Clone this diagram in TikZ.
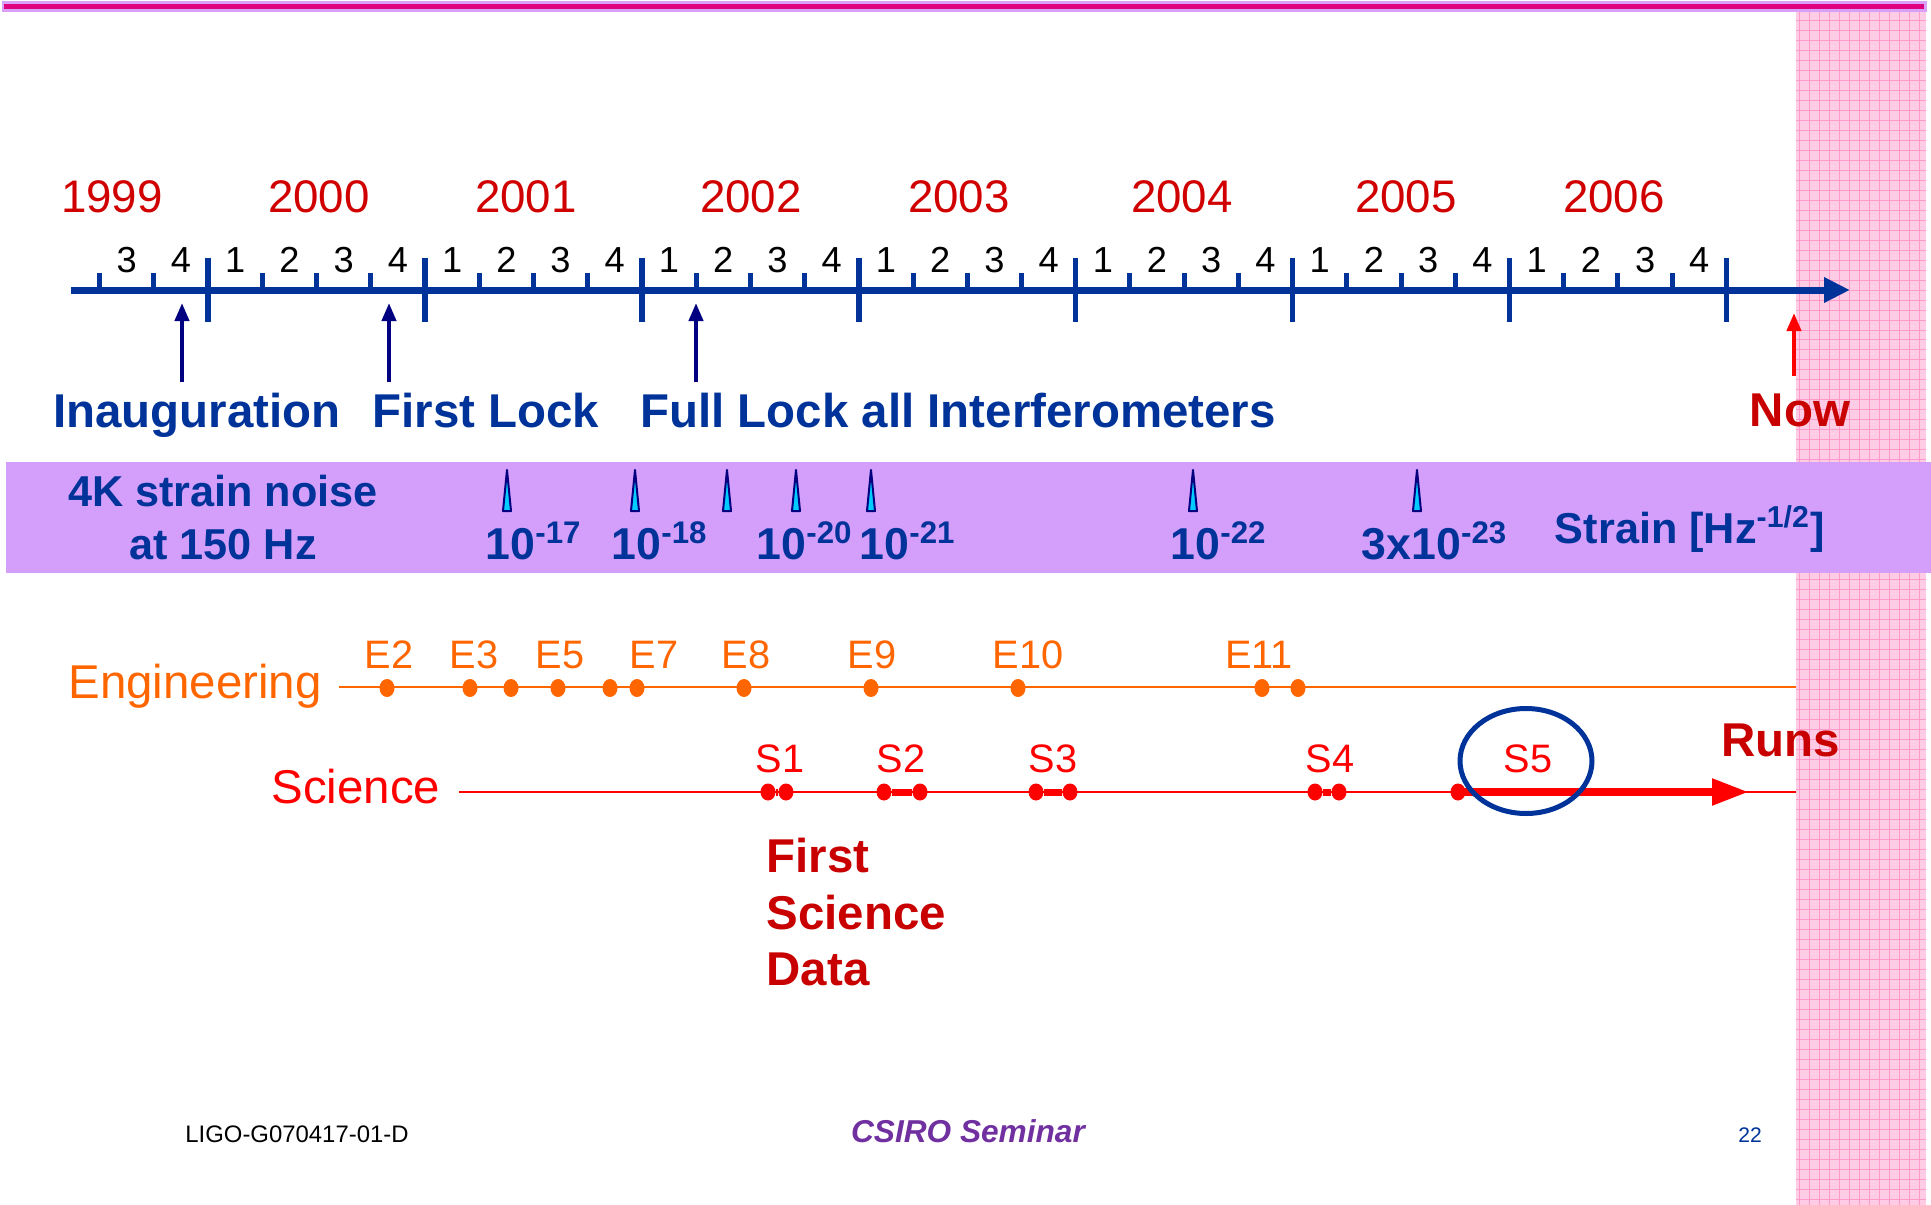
\documentclass[tikz,border=0pt]{standalone}
\usepackage{fontspec}
\setmainfont{Liberation Sans}
\usepackage{tikz}
\usetikzlibrary{arrows.meta,positioning,calc,shapes.geometric}
\definecolor{navy}{HTML}{003399}
\definecolor{arrnavy}{HTML}{000080}
\definecolor{yearred}{HTML}{D00000}
\definecolor{darkred}{HTML}{C80000}
\definecolor{scired}{HTML}{FF0000}
\definecolor{engorange}{HTML}{FF6600}
\definecolor{bandviolet}{HTML}{D49EFB}
\definecolor{spikecyan}{HTML}{00CCFF}
\definecolor{pinkfill}{HTML}{FFCCE5}
\definecolor{pinkline}{HTML}{FF9ACB}
\definecolor{barmagenta}{HTML}{DE007F}
\definecolor{barlilac}{HTML}{D8A0F8}
\definecolor{csiro}{HTML}{7030A0}
\newcommand\fsz[2]{\fontsize{#1}{#2}\selectfont}
\tikzset{axisline/.style={line width=0.7mm,draw=navy,-{Triangle[length=2.6mm,width=2.4mm]}},
  majtick/.style={line width=0.55mm,draw=navy},
  mintick/.style={line width=0.5mm,draw=navy},
  yr/.style={anchor=base,inner sep=0pt,text=yearred,font=\fsz{13pt}{15pt}},
  qtr/.style={anchor=base,inner sep=0pt,font=\fsz{10.3pt}{12pt}},
  milestone/.style={anchor=base,inner sep=0pt,text=navy,font=\fsz{13.5pt}{16pt}\bfseries},
  uparr/.style={line width=0.4mm,-{Triangle[length=1.8mm,width=1.4mm]}},
  bandtext/.style={anchor=base,inner sep=0pt,text=navy,font=\fsz{12.3pt}{14.8pt}\bfseries,align=center},
  spike/.style={draw=arrnavy,fill=spikecyan,line width=0.2mm,line join=round},
  edot/.style={ellipse,fill=engorange,inner sep=0pt,minimum width=1.5mm,minimum height=1.8mm},
  sdot/.style={ellipse,fill=scired,inner sep=0pt,minimum width=1.5mm,minimum height=1.7mm},
  elabel/.style={anchor=base,inner sep=0pt,text=engorange,font=\fsz{11.3pt}{13pt}},
  slabel/.style={anchor=base,inner sep=0pt,text=scired,font=\fsz{11.3pt}{13pt}},
  redbold/.style={anchor=base,inner sep=0pt,text=darkred,font=\fsz{13.5pt}{16.2pt}\bfseries}}
\begin{document}
\begin{tikzpicture}[x=0.1mm,y=-0.1mm]
\useasboundingbox (0,0) rectangle (1931,1205);
% pink margin on the right
\fill[pinkfill] (1796,12) rectangle (1926,1205);
\draw[pinkline,line width=0.1mm,step=1mm] (1796,12) grid (1926,1205);
% title bar
\draw[draw=barlilac,fill=barmagenta,line width=0.3mm] (3,2) rectangle (1925,10);
% strain band
\fill[bandviolet] (6,462) rectangle (1931,573);

% time axis
\coordinate (axS) at (71,290);
\coordinate (axE) at (1850,290);
\draw[axisline] (axS) -- (axE);
\foreach \i in {0,...,7}
  \draw[majtick] ({208.1+216.9*\i},258) -- ++(0,64);
\foreach \q in {1,2}
  \draw[mintick] ({208.1-54.225*\q},273) -- ++(0,17);
\foreach \i in {0,...,6}
  \foreach \q in {1,2,3}
    \draw[mintick] ({208.1+216.9*\i+54.225*\q},273) -- ++(0,17);
\foreach \k in {-2,...,27} {
  \pgfmathtruncatemacro\qd{mod(\k+8,4)+1}
  \node[qtr] (q\k) at ({208.1+54.225*(\k+0.5)},272) {\qd};
}
\foreach \yr/\x in {1999/112,2000/319,2001/526,2002/751,2003/959,2004/1182,2005/1406,2006/1614}
  \node[yr] (y\yr) at (\x,212) {\yr};

% milestones
\node[milestone] (inaug) at (197,427) {Inauguration};
\node[milestone] (lock) at (486,427) {First Lock};
\node[milestone] (full) at (958,427) {Full Lock all Interferometers};
\foreach \n/\x in {inaug/182,lock/389,full/696} {
  \coordinate (\n-b) at (\x,382);
  \coordinate (\n-t) at (\x,303);
  \draw[uparr,arrnavy] (\n-b) -- (\n-t);
}
\node[redbold] (now) at (1800,426) {Now};
\coordinate (now-b) at (1794,376);
\coordinate (now-t) at (1794,313);
\draw[uparr,scired] (now-b) -- (now-t);

% strain sensitivity
\node[bandtext] (noise) at (223,559) {4K strain noise\\at 150 Hz};
\foreach \x in {507,635,727,796,871,1193,1417}
  \draw[spike] ({\x-4},511) -- (\x,470) -- ({\x+4},511) -- cycle;
\foreach \n/\x/\t in {h17/534/10\textsuperscript{-17},h18/660/10\textsuperscript{-18},
    h20/805/10\textsuperscript{-20},h21/908/10\textsuperscript{-21},
    h22/1219/10\textsuperscript{-22},h23/1435/3x10\textsuperscript{-23}}
  \node[bandtext,font=\fsz{12.7pt}{15pt}\bfseries] (\n) at (\x,559) {\t};
\node[bandtext] (strain) at (1690,543) {Strain [Hz\textsuperscript{-1/2}]};

% engineering runs
\node[anchor=base,inner sep=0pt,text=engorange,font=\fsz{13.5pt}{16pt}] (eng) at (195,698) {Engineering};
\coordinate (engS) at (339,687);
\coordinate (engE) at (1796,687);
\draw[engorange,line width=0.22mm] (engS) -- (engE);
\foreach \x [count=\c] in {387,470,511,558,610,637,744,871,1018,1262,1298}
  \node[edot] (e\c) at (\x,688) {};
\foreach \t/\x in {E2/389,E3/474,E5/560,E7/654,E8/746,E9/872,E10/1028,E11/1259}
  \node[elabel] (l\t) at (\x,668) {\t};

% science runs
\node[anchor=base,inner sep=0pt,text=scired,font=\fsz{13.5pt}{16pt}] (sci) at (356,803) {Science};
\coordinate (sciS) at (459,792);
\coordinate (sciE) at (1796,792);
\draw[scired,line width=0.25mm] (sciS) -- (sciE);
\foreach \n/\a/\b in {s1/768/786,s2/884/920,s3/1036/1070,s4/1315/1339} {
  \node[sdot] (\n a) at (\a,792) {};
  \node[sdot] (\n b) at (\b,792) {};
  \draw[scired,line width=0.7mm] (\n a) -- (\n b);
}
\node[sdot] (s5) at (1458,792) {};
\coordinate (runTip) at (1749,792);
\draw[scired,line width=0.8mm,-{Triangle[length=3.7mm,width=2.5mm]}] (s5.center) -- (runTip);
\foreach \t/\x in {S1/780,S2/901,S3/1053,S4/1330,S5/1528}
  \node[slabel] (l\t) at (\x,772) {\t};
\node[draw=navy,line width=0.5mm,ellipse,inner sep=0pt,minimum width=13.2mm,minimum height=10.5mm] (ring) at (1526,761) {};
\node[redbold] (runs) at (1781,756) {Runs};
\node[redbold,align=left,anchor=north west] (first) at (766,837) {First\\Science\\Data};

% footer
\node[anchor=base,inner sep=0pt,font=\fsz{6.8pt}{8pt}] (docid) at (297,1142) {LIGO-G070417-01-D};
\node[anchor=base,inner sep=0pt,text=csiro,font=\fsz{9pt}{11pt}\bfseries\itshape] (talk) at (968,1142) {CSIRO Seminar};
\node[anchor=base,inner sep=0pt,text=navy,font=\fsz{6pt}{7pt}] (page) at (1750,1142) {22};
\end{tikzpicture}
\end{document}
